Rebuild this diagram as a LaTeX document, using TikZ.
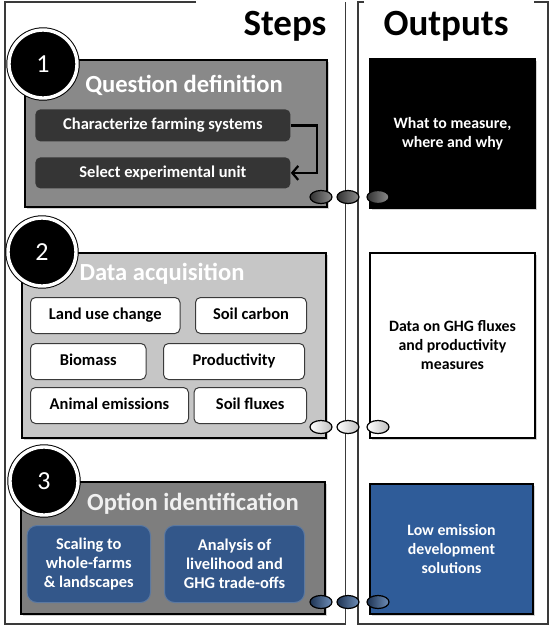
\documentclass[tikz,border=0pt]{standalone}
\usepackage{fontspec}
\setmainfont{Carlito}
\usepackage{tikz}
\usetikzlibrary{arrows.meta}
\usetikzlibrary{shapes.geometric}
\usetikzlibrary{shadows}
\definecolor{stepgray}{HTML}{898989}
\definecolor{stepdark}{HTML}{353535}
\definecolor{steplight}{HTML}{C6C6C6}
\definecolor{stepblue}{HTML}{33578A}
\definecolor{outblue}{HTML}{2F5C99}
\definecolor{framegray}{HTML}{3A3A3A}

\begin{document}
\begin{tikzpicture}[x=0.5pt,y=-0.5pt,
  stepbox/.style={draw=black,line width=1pt,anchor=north west,inner sep=0pt,
    drop shadow={shadow xshift=1pt,shadow yshift=-1pt,opacity=0.35}},
  outbox/.style={stepbox,minimum width=82.5pt,align=center,
    font=\bfseries\fontsize{7.9}{9.5}\selectfont},
  task/.style={rounded corners=2.5pt,anchor=north west,inner sep=0pt,
    text height=6pt,text depth=1.7pt,
    font=\bfseries\fontsize{8.25}{9.5}\selectfont},
  darktask/.style={task,fill=stepdark,text=white},
  datatask/.style={task,fill=white,draw=framegray,line width=0.5pt,minimum height=18pt},
  bluetask/.style={task,rounded corners=5pt,fill=stepblue,draw=stepblue!80!white,
    line width=0.5pt,text=white,align=center,minimum height=38.5pt,
    text height=,text depth=,
    font=\bfseries\fontsize{8.2}{9.6}\selectfont},
  title/.style={anchor=base,text=white,font=\bfseries\fontsize{12.3}{14}\selectfont},
  stepnum/.style={circle,fill=black,draw=black,double=white,double distance=1.7pt,
    line width=0.5pt,minimum size=34pt,inner sep=0pt,text=white,
    font=\fontsize{13}{13}\selectfont},
  link/.style={ellipse,draw=black,line width=0.6pt,minimum width=11pt,
    minimum height=6.5pt,inner sep=0pt},
  head/.style={anchor=base,font=\bfseries\fontsize{18.5}{20}\selectfont}]
\useasboundingbox (0,0) rectangle (553,632);
\draw [framegray,line width=0.6pt] (196,2) -- (5,2) -- (5,624) -- (345.5,624) -- (345.5,2);
\draw [framegray,line width=0.6pt] (364,2) -- (358,2) -- (358,624) -- (548,624) -- (548,2) -- (534,2);
\node [head] (steps) at (285,35) {Steps};
\node [head] (outputs) at (446,35) {Outputs};

\node [stepbox,fill=stepgray,minimum width=151pt,minimum height=73.5pt] (define) at (24,59) {};
\node [stepbox,fill=steplight,minimum width=152pt,minimum height=92.5pt] (acquire) at (21,252) {};
\node [stepbox,fill=stepgray!92!black,minimum width=152pt,minimum height=66pt] (identify) at (19.5,481) {};

\node [outbox,fill=black,text=white,minimum height=74.5pt] (what) at (369,58) {What to measure,\\where and why};
\node [outbox,fill=white,minimum height=92.5pt] (data) at (369,252) {Data on GHG fluxes\\and productivity\\measures};
\node [outbox,fill=outblue,text=white,minimum width=81.5pt,minimum height=65pt] (solutions) at (369,483) {Low emission\\development\\solutions};

\node [title] at (184,92) {Question definition};
\node [title] at (162,280) {Data acquisition};
\node [title,text=white!94!black] at (193,510) {Option identification};

\node [darktask,minimum width=127.5pt,minimum height=16pt] (farming) at (35,109) {Characterize farming systems};
\node [darktask,minimum width=127.5pt,minimum height=15.5pt] (unit) at (35,157) {Select experimental unit};
\draw [line width=1.1pt,-{Straight Barb[length=3pt,width=7pt]}] (farming.east) -- ++(26,0) |- (unit.east);

\node [datatask,minimum width=74.75pt] (landuse) at (30,297) {Land use change};
\node [datatask,minimum width=55.5pt] (soilcarbon) at (195,297) {Soil carbon};
\node [datatask,minimum width=57.75pt] (biomass) at (30,343) {Biomass};
\node [datatask,minimum width=70.5pt] (productivity) at (163,343) {Productivity};
\node [datatask,minimum width=79pt] (animal) at (30,387) {Animal emissions};
\node [datatask,minimum width=56.25pt] (soilfluxes) at (193.5,387) {Soil fluxes};

\node [bluetask,minimum width=61.75pt] (scaling) at (26.5,525) {Scaling to\\whole-farms\\\& landscapes};
\node [bluetask,minimum width=70pt] (tradeoffs) at (164,525) {Analysis of\\livelihood and\\GHG trade-offs};

\node [stepnum] (one) at (43,64) {1};
\node [stepnum] (two) at (42,252) {2};
\node [stepnum] (three) at (44,481) {3};

\foreach \x/\n in {321/a,348/b,378/c}
{
\node [link,left color=black!80,right color=black!45] (dl\n) at (\x,197) {};
\node [link,left color=white,right color=black!25] (ll\n) at (\x,427) {};
\node [link,left color=stepblue!60!black,right color=outblue!70!white] (bl\n) at (\x,602) {};
}
\end{tikzpicture}
\end{document}
